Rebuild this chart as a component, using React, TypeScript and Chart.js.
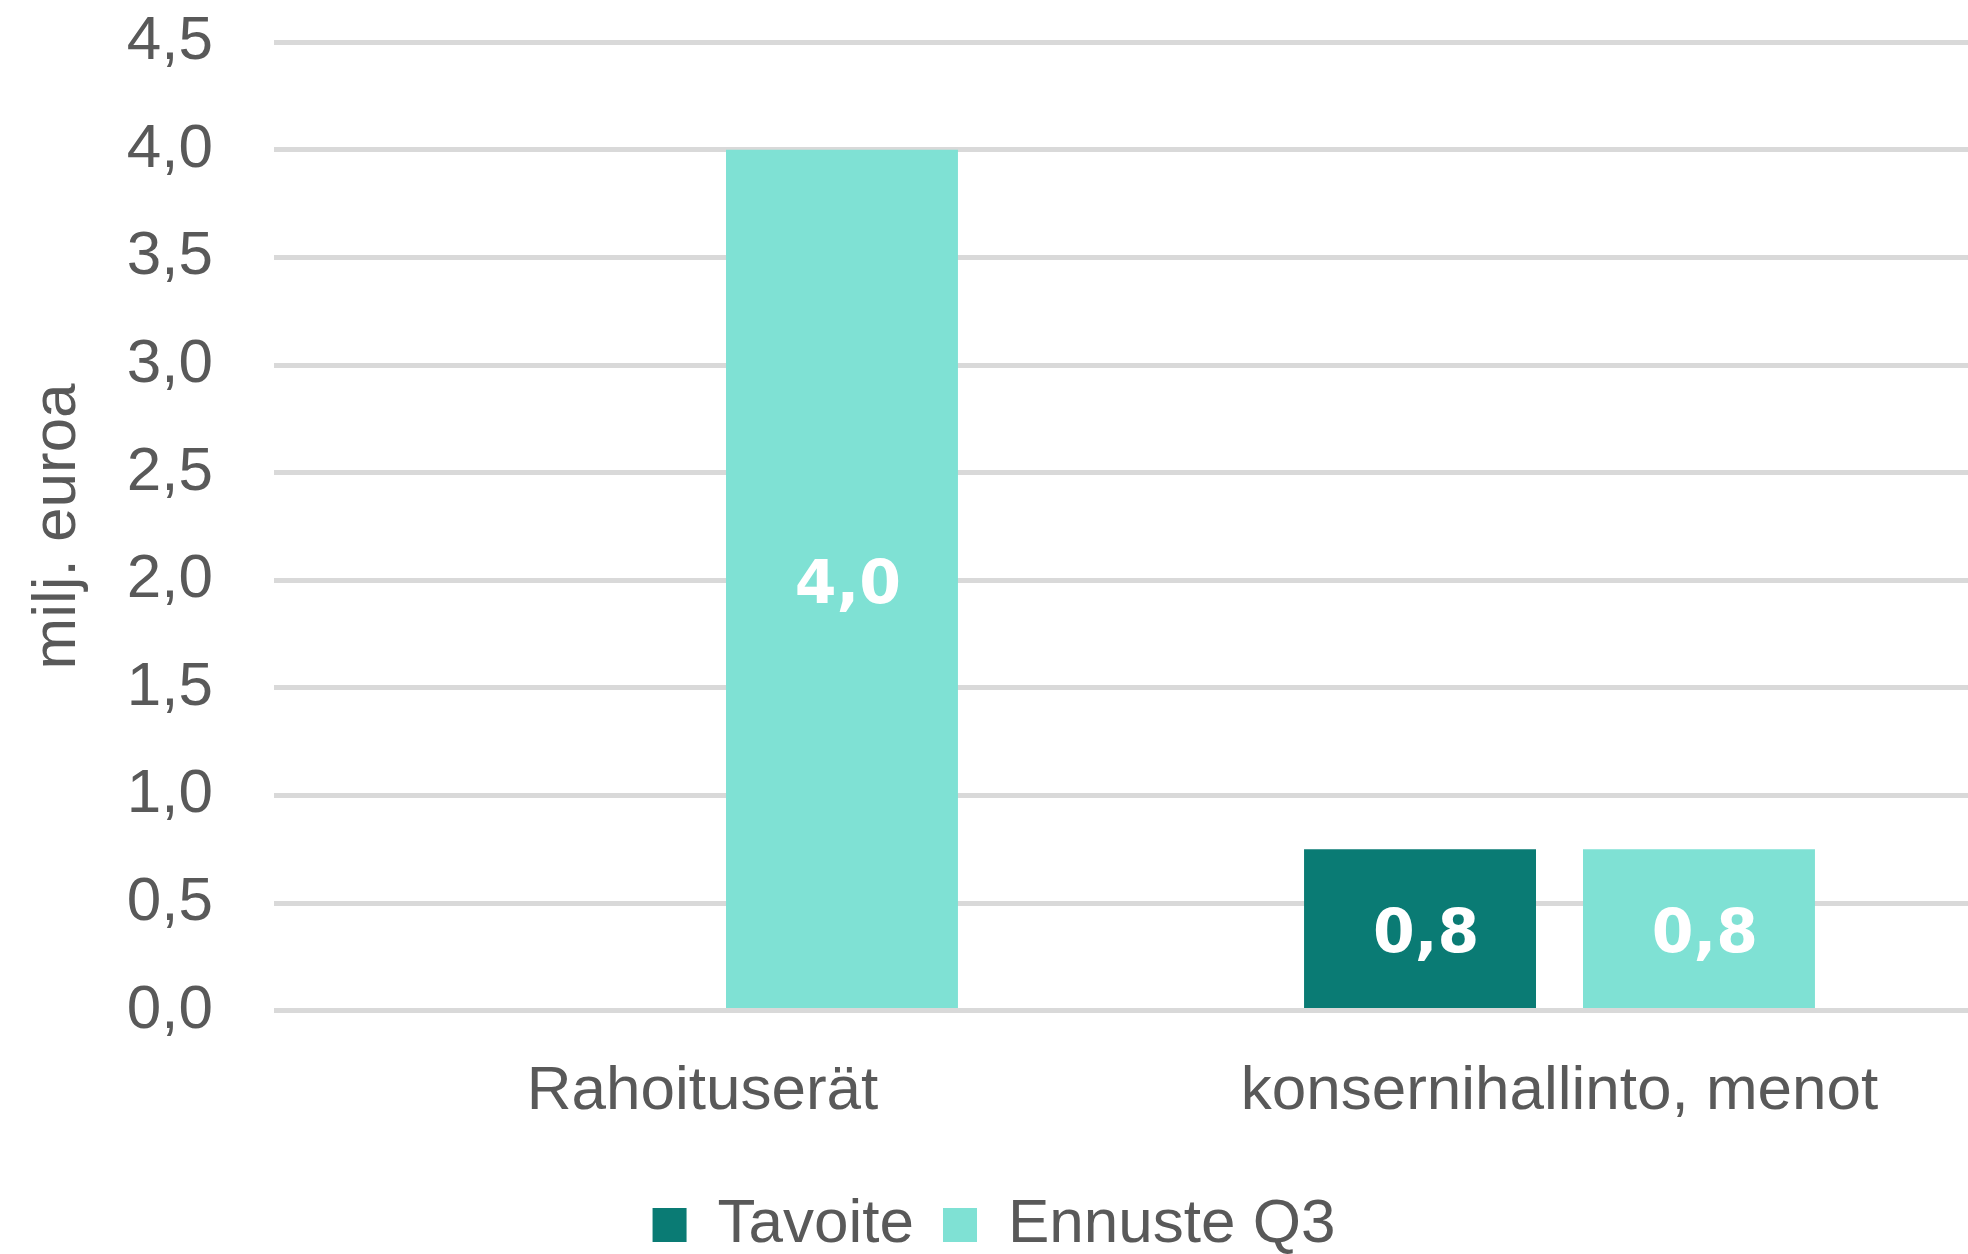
import { useEffect, useRef } from "react";
import { Chart, registerables } from "chart.js";

Chart.register(...registerables);

const categories = ["Rahoituserät", "konsernihallinto, menot"];
const seriesNames = ["Tavoite", "Ennuste Q3"];
const tavoite: (number | null)[] = [null, 0.75];
const ennuste: (number | null)[] = [4.0, 0.75];
const seriesColors = ["#0A7B74", "#7FE1D4"];
const yMin = 0;
const yMax = 4.5;
const yStep = 0.5;
const yTitle = "milj. euroa";

const fmt = (v: number) => v.toFixed(1).replace(".", ",");

const FONT = "'Liberation Sans', Arial, sans-serif";
const TEXT = "#595959";

const barLabels = {
  id: "barLabels",
  afterDatasetsDraw(chart: any) {
    const ctx = chart.ctx;
    ctx.save();
    ctx.font = "bold 60px 'DejaVu Sans', sans-serif";
    ctx.fillStyle = "#ffffff";
    ctx.textAlign = "center";
    ctx.textBaseline = "middle";
    chart.data.datasets.forEach((ds: any, i: number) => {
      const meta = chart.getDatasetMeta(i);
      meta.data.forEach((bar: any, j: number) => {
        const v = ds.data[j];
        if (v == null) return;
        const p = bar.getProps(["x", "y", "base"], true);
        ctx.fillText(fmt(v), p.x + 6, (p.y + p.base) / 2 + 8);
      });
    });
    ctx.restore();
  },
};

export default function App() {
  const ref = useRef<HTMLCanvasElement>(null);
  useEffect(() => {
    if (!ref.current) return;
    const chart = new Chart(ref.current, {
      type: "bar",
      data: {
        labels: categories,
        datasets: [
          { label: seriesNames[0], data: tavoite, backgroundColor: seriesColors[0] },
          { label: seriesNames[1], data: ennuste, backgroundColor: seriesColors[1] },
        ],
      },
      options: {
        animation: false,
        responsive: true,
        maintainAspectRatio: false,
        devicePixelRatio: 1,
        layout: { padding: { top: 6, right: 0, bottom: 0, left: 0 } },
        datasets: {
          bar: { categoryPercentage: 0.651, barPercentage: 0.8315 },
        },
        scales: {
          x: {
            grid: { display: false },
            border: { display: false },
            ticks: {
              color: TEXT,
              font: { family: FONT, size: 62 },
              padding: 36,
              maxRotation: 0,
              autoSkip: false,
            },
          },
          y: {
            min: yMin,
            max: yMax,
            grid: { color: "#D9D9D9", lineWidth: 5, drawTicks: false },
            border: { display: false },
            ticks: {
              stepSize: yStep,
              color: TEXT,
              font: { family: FONT, size: 62 },
              padding: 61,
              callback: (v: any) => fmt(Number(v)),
            },
            title: {
              display: true,
              text: yTitle,
              color: TEXT,
              font: { family: FONT, size: 62 },
              padding: { top: 21, bottom: 0 },
            },
            afterFit(scale: any) {
              scale.width = 274;
            },
          },
        },
        plugins: {
          legend: {
            position: "bottom",
            labels: {
              color: TEXT,
              font: { family: FONT, size: 62 },
              boxWidth: 34,
              boxHeight: 34,
              padding: 29,
            },
          },
          tooltip: { enabled: false },
        },
      },
      plugins: [barLabels],
    });
    return () => chart.destroy();
  }, []);
  return (
    <div
      style={{
        position: "fixed",
        left: 0,
        top: 0,
        width: 1968,
        height: 1254,
        overflow: "hidden",
        background: "#fff",
      }}
    >
      <div style={{ position: "relative", top: -56, width: 1988, height: 1322 }}>
        <canvas ref={ref} />
      </div>
    </div>
  );
}
